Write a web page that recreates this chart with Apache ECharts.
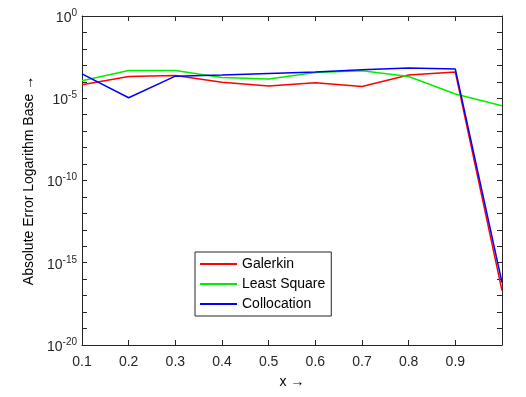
<!DOCTYPE html>
<html>
<head>
<meta charset="utf-8">
<script src="https://cdn.jsdelivr.net/npm/echarts@6/dist/echarts.min.js"></script>
<style>
html,body{margin:0;padding:0;background:#fff;}
#main{width:526px;height:397px;}
</style>
</head>
<body>
<div id="main"></div>
<script>
// x 值
var xs = [0.1, 0.2, 0.3, 0.4, 0.5, 0.6, 0.7, 0.8, 0.9, 1.0];
// 三种方法的绝对误差
var galerkin = [6.6e-5, 2.1e-4, 2.4e-4, 9.5e-5, 5.5e-5, 8.7e-5, 5.2e-5, 2.6e-4, 3.9e-4, 2.0e-17];
var leastSquare = [1.15e-4, 4.9e-4, 4.9e-4, 1.8e-4, 1.5e-4, 3.7e-4, 4.7e-4, 2.1e-4, 1.8e-5, 3.5e-6];
var collocation = [3.0e-4, 1.07e-5, 2.2e-4, 2.6e-4, 3.2e-4, 3.9e-4, 5.4e-4, 6.8e-4, 5.9e-4, 6.3e-17];
var seriesNames = ['Galerkin', 'Least Square', 'Collocation'];
var xTickLabels = ['0.1', '0.2', '0.3', '0.4', '0.5', '0.6', '0.7', '0.8', '0.9'];
var yLabelExps = [-20, -15, -10, -5, 0];

var font = 'Liberation Sans, Arial, sans-serif';
var axisColor = '#262626';

function pairs(ys){
	var out = [];
	for(var i=0;i<xs.length;i++){
		out.push([xs[i], ys[i]]);
	}
	return out;
}

//只在 10^-20,10^-15... 处显示标签
function logLabel(v){
	var e = Math.round(Math.log(v) / Math.LN10);
	if(yLabelExps.indexOf(e) < 0) return '';
	return '{b|10}{s|' + e + '}';
}

var chart = echarts.init(document.getElementById('main'));
var option = {
	animation: false,
	color: ['#ff0000', '#00ee00', '#0000ff'],
	grid: {left: 82, right: 24, top: 16, bottom: 52},
	legend: {
		orient: 'vertical',
		left: 195,
		top: 252,
		width: 146,
		data: seriesNames,
		icon: 'rect',
		itemWidth: 37,
		itemHeight: 2,
		itemGap: 6,
		padding: [5, 6, 5, 5],
		borderColor: axisColor,
		borderWidth: 1,
		backgroundColor: '#fff',
		textStyle: {fontFamily: font, fontSize: 14, color: '#000', lineHeight: 12}
	},
	xAxis: [{
		type: 'value',
		min: 0.1,
		max: 1.0,
		interval: 0.1,
		name: 'x →',
		nameLocation: 'middle',
		nameGap: 30,
		nameTextStyle: {fontFamily: font, fontSize: 14, color: '#000'},
		axisLine: {lineStyle: {color: axisColor, width: 1}},
		axisTick: {inside: true, length: 5, lineStyle: {color: axisColor}},
		axisLabel: {
			fontFamily: font, fontSize: 14, color: axisColor, margin: 10,
			formatter: function(v){
				var s = v.toFixed(1);
				return xTickLabels.indexOf(s) >= 0 ? s : '';
			}
		},
		splitLine: {show: false}
	}, {
		type: 'value',
		position: 'top',
		min: 0.1,
		max: 1.0,
		interval: 0.1,
		axisLine: {lineStyle: {color: axisColor, width: 1}},
		axisTick: {inside: true, length: 5, lineStyle: {color: axisColor}},
		axisLabel: {show: false},
		splitLine: {show: false}
	}],
	yAxis: [{
		type: 'log',
		logBase: 10,
		min: 1e-20,
		max: 1,
		interval: 1,
		name: 'Absolute Error Logarithm Base →',
		nameLocation: 'middle',
		nameGap: 45,
		nameTextStyle: {fontFamily: font, fontSize: 14, color: '#000'},
		axisLine: {show: true, lineStyle: {color: axisColor, width: 1}},
		axisTick: {inside: true, length: 5, lineStyle: {color: axisColor}},
		axisLabel: {
			margin: 5,
			interval: 0,
			formatter: logLabel,
			rich: {
				b: {fontFamily: font, fontSize: 14, color: axisColor, padding: [4, 0, 0, 0]},
				s: {fontFamily: font, fontSize: 10, color: axisColor, padding: [0, 0, 6, 0]}
			}
		},
		splitLine: {show: false}
	}, {
		type: 'log',
		logBase: 10,
		position: 'right',
		min: 1e-20,
		max: 1,
		interval: 1,
		axisLine: {show: true, lineStyle: {color: axisColor, width: 1}},
		axisTick: {inside: true, length: 5, lineStyle: {color: axisColor}},
		axisLabel: {show: false},
		splitLine: {show: false}
	}],
	series: [{
		name: seriesNames[0],
		type: 'line',
		symbol: 'none',
		lineStyle: {width: 1.5},
		data: pairs(galerkin)
	}, {
		name: seriesNames[1],
		type: 'line',
		symbol: 'none',
		lineStyle: {width: 1.5},
		data: pairs(leastSquare)
	}, {
		name: seriesNames[2],
		type: 'line',
		symbol: 'none',
		lineStyle: {width: 1.5},
		data: pairs(collocation)
	}]
};
chart.setOption(option);
</script>
</body>
</html>
